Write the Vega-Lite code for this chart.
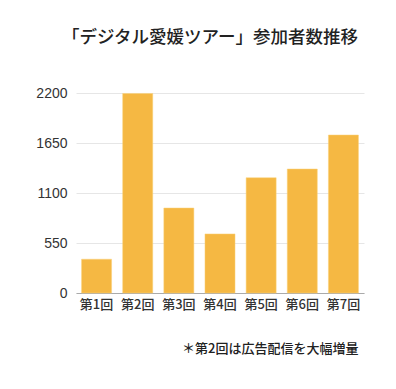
{
  "$schema": "https://vega.github.io/schema/vega-lite/v6.json",
  "autosize": "none",
  "padding": {"left": 76, "top": 93, "right": 32, "bottom": 96},
  "width": 288,
  "height": 200,
  "background": "white",
  "title": {
    "text": "「デジタル愛媛ツアー」参加者数推移",
    "font": "Noto Sans CJK JP",
    "fontSize": 17.5,
    "fontWeight": 500,
    "color": "#222222",
    "anchor": "middle",
    "dx": -10,
    "offset": 40
  },
  "data": {
    "values": [
      {"回": "第1回", "参加者数": 372},
      {"回": "第2回", "参加者数": 2195},
      {"回": "第3回", "参加者数": 935},
      {"回": "第4回", "参加者数": 650},
      {"回": "第5回", "参加者数": 1268},
      {"回": "第6回", "参加者数": 1364},
      {"回": "第7回", "参加者数": 1738}
    ]
  },
  "mark": {"type": "bar", "color": "#F5B843", "stroke": "#FBD27A", "strokeWidth": 0.5},
  "encoding": {
    "x": {
      "field": "回",
      "type": "nominal",
      "sort": null,
      "scale": {"paddingInner": 0.27, "paddingOuter": 0.135},
      "axis": {
        "title": "＊第2回は広告配信を大幅増量",
        "titleFont": "Noto Sans CJK JP",
        "titleFontSize": 13,
        "titleFontWeight": 500,
        "titleColor": "#222222",
        "titleAlign": "right",
        "titleAnchor": null,
        "titleX": 282,
        "titleY": 55,
        "titleBaseline": "middle",
        "labelAngle": 0,
        "labelFont": "Noto Sans CJK JP",
        "labelFontSize": 13,
        "labelFontWeight": 500,
        "labelColor": "#333333",
        "labelPadding": 5,
        "ticks": false,
        "domainColor": "#aaaaaa",
        "domainWidth": 1
      }
    },
    "y": {
      "field": "参加者数",
      "type": "quantitative",
      "scale": {"domain": [0, 2200], "nice": false},
      "axis": {
        "title": null,
        "values": [0, 550, 1100, 1650, 2200],
        "format": "d",
        "labelFont": "Liberation Sans",
        "labelFontSize": 14,
        "labelColor": "#333333",
        "labelPadding": 9,
        "ticks": false,
        "domain": false,
        "grid": true,
        "gridColor": "#e6e6e6",
        "gridWidth": 1
      }
    }
  },
  "config": {"view": {"stroke": null}}
}
